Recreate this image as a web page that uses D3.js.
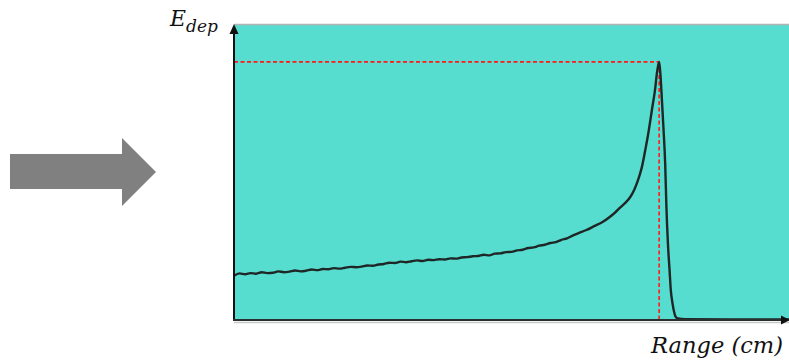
<!DOCTYPE html>
<html>
<head>
<meta charset="utf-8">
<script src="https://cdn.jsdelivr.net/npm/d3@7/dist/d3.min.js"></script>
<style>
  html, body { margin: 0; padding: 0; background: #ffffff; }
  svg { display: block; }
</style>
</head>
<body>
<svg id="chart" width="789" height="363"></svg>
<script>
// Depth-dose (Bragg) curve: deposited energy vs. range, arbitrary units.
// Plateau region, sampled every 1 unit of range.
const plateauRange = d3.range(0, 63);
const plateauEnergy = [
  15.0, 15.8, 15.5, 15.9, 15.7, 16.2, 15.9, 16.0, 16.5, 16.2,
  16.4, 16.8, 16.5, 16.7, 17.1, 16.9, 17.3, 17.2, 17.6, 17.4,
  17.7, 18.0, 17.9, 18.1, 18.5, 18.4, 18.8, 19.0, 19.4, 19.3,
  19.8, 19.6, 19.9, 20.2, 20.0, 20.4, 20.3, 20.6, 20.5, 20.9,
  20.8, 21.2, 21.3, 21.6, 21.7, 22.1, 21.9, 22.5, 22.6, 23.0,
  23.1, 23.6, 23.8, 24.4, 24.6, 25.2, 25.5, 26.1, 26.4, 27.2,
  27.7, 28.6, 29.4
];
// Build-up, Bragg peak and distal fall-off.
const peakRange = [
  63.5, 65.0, 66.4, 67.7, 68.6, 69.5, 70.5, 71.4, 72.1, 72.6,
  73.1, 73.5, 74.1, 74.6, 75.3, 75.9, 76.2, 76.6, 76.8, 77.1,
  77.4, 77.7, 77.9, 78.2, 78.5, 78.7, 79.0, 79.3, 79.6, 80.0,
  81.3, 90.0, 100.0
];
const peakEnergy = [
  30.5, 31.9, 33.2, 34.9, 36.3, 38.0, 39.7, 41.7, 44.1, 46.4,
  49.2, 51.9, 57.6, 62.7, 71.2, 78.6, 83.7, 87.5, 84.1, 74.6,
  64.4, 52.5, 39.0, 25.4, 16.3, 10.2, 5.8, 2.7, 1.0, 0.5,
  0.3, 0.2, 0.2
];

const rangeValues = plateauRange.concat(peakRange);
const energyValues = plateauEnergy.concat(peakEnergy);
const curve = rangeValues.map((r, i) => ({ r, e: energyValues[i] }));

const axisLabelX = "Range (cm)";
const axisLabelY = "E";
const axisLabelYSub = "dep";

const svg = d3.select("#chart");
const plot = { left: 234, right: 789, top: 25, bottom: 320 };

const x = d3.scaleLinear().domain([0, 100]).range([plot.left, plot.right]);
const y = d3.scaleLinear().domain([0, 100]).range([plot.bottom, plot.top]);

// Block arrow on the left
const arrowShape = [
  [10, 154], [122, 154], [122, 138], [156, 172],
  [122, 206], [122, 189], [10, 189]
];
svg.append("polygon")
  .attr("points", arrowShape.map(p => p.join(",")).join(" "))
  .attr("fill", "#808080");

// Plot background
svg.append("rect")
  .attr("x", x(0)).attr("y", y(100))
  .attr("width", x(100) - x(0)).attr("height", y(0) - y(100))
  .attr("fill", "#57ddd0");
svg.append("line")
  .attr("x1", x(0)).attr("x2", x(100))
  .attr("y1", y(100) - 0.5).attr("y2", y(100) - 0.5)
  .attr("stroke", "#b4b4b4").attr("stroke-width", 1.5);
// soft shadow under the x axis
svg.append("line")
  .attr("x1", x(0)).attr("x2", x(100))
  .attr("y1", y(0) + 2.5).attr("y2", y(0) + 2.5)
  .attr("stroke", "#c8c8c8").attr("stroke-width", 1.5);

// Peak guide lines
const peak = curve.reduce((a, b) => (b.e > a.e ? b : a));
svg.append("line")
  .attr("x1", x(0)).attr("x2", x(peak.r))
  .attr("y1", y(peak.e)).attr("y2", y(peak.e))
  .attr("stroke", "#ff1a1a").attr("stroke-width", 1.6)
  .attr("stroke-dasharray", "4,2.5");
svg.append("line")
  .attr("x1", x(peak.r)).attr("x2", x(peak.r))
  .attr("y1", y(peak.e)).attr("y2", y(0))
  .attr("stroke", "#ff1a1a").attr("stroke-width", 1.6)
  .attr("stroke-dasharray", "4,2.5");

// Energy deposition curve
const line = d3.line()
  .x(d => x(d.r))
  .y(d => y(d.e))
  .curve(d3.curveMonotoneX);
svg.append("path")
  .datum(curve)
  .attr("d", line)
  .attr("fill", "none")
  .attr("stroke", "#1e2626")
  .attr("stroke-width", 2.4)
  .attr("stroke-linejoin", "round");

// Axes with arrowheads
svg.append("line")
  .attr("x1", x(0)).attr("x2", x(0))
  .attr("y1", y(0) + 1).attr("y2", y(100) + 8)
  .attr("stroke", "#111").attr("stroke-width", 2);
svg.append("polygon")
  .attr("points", [[x(0), y(100) - 1], [x(0) - 4.5, y(100) + 9], [x(0) + 4.5, y(100) + 9]]
    .map(p => p.join(",")).join(" "))
  .attr("fill", "#111");
svg.append("line")
  .attr("x1", x(0) - 1).attr("x2", x(100) - 6)
  .attr("y1", y(0)).attr("y2", y(0))
  .attr("stroke", "#2a2f2f").attr("stroke-width", 2);
svg.append("polygon")
  .attr("points", [[x(100) + 1, y(0)], [x(100) - 8, y(0) - 4.5], [x(100) - 8, y(0) + 4.5]]
    .map(p => p.join(",")).join(" "))
  .attr("fill", "#111");

// Axis labels
const yLabel = svg.append("text")
  .attr("x", 170).attr("y", 26)
  .attr("font-family", "DejaVu Serif")
  .attr("font-style", "italic")
  .attr("font-size", 22)
  .attr("fill", "#111");
yLabel.append("tspan").text(axisLabelY);
yLabel.append("tspan")
  .attr("dy", 6).attr("font-size", 17)
  .text(axisLabelYSub);

svg.append("text")
  .attr("x", 651).attr("y", 353)
  .attr("font-family", "DejaVu Serif")
  .attr("font-style", "italic")
  .attr("font-size", 23)
  .attr("fill", "#111")
  .attr("textLength", 132)
  .attr("lengthAdjust", "spacingAndGlyphs")
  .text(axisLabelX);
</script>
</body>
</html>
